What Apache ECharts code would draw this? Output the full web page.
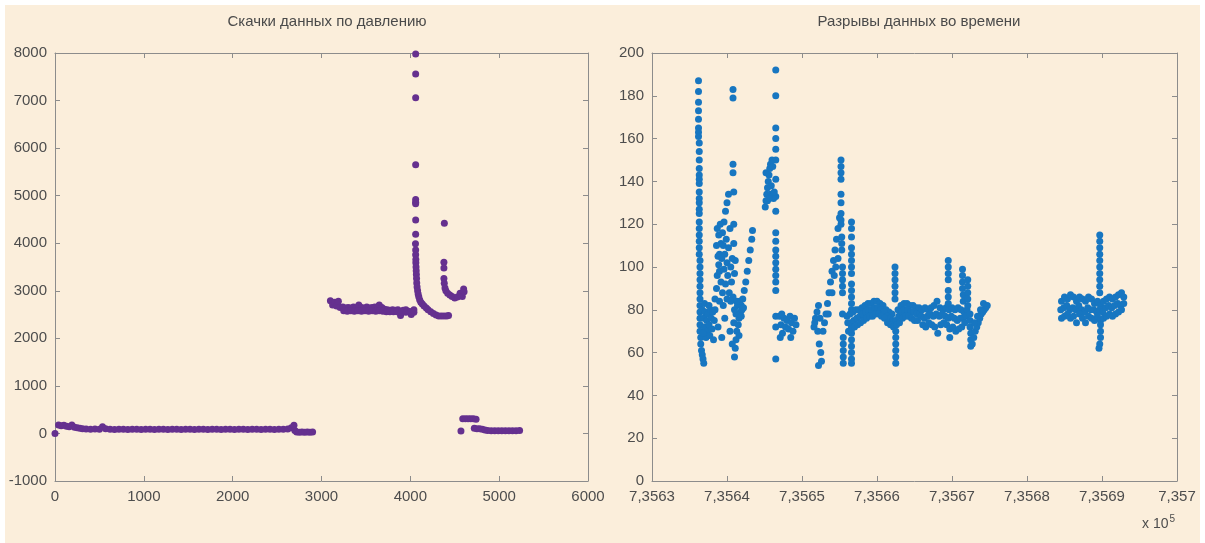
<!DOCTYPE html>
<html>
<head>
<meta charset="utf-8">
<script src="https://cdn.jsdelivr.net/npm/echarts@6/dist/echarts.min.js"></script>
<style>
  html, body { margin: 0; padding: 0; background: #ffffff; }
  #paper { position: absolute; left: 5px; top: 5px; right: 5px; bottom: 0; background: #fbeedb; }
  #chart { position: absolute; left: 0; top: 0; width: 1205px; height: 543px; }
</style>
</head>
<body>
<div id="paper"></div>
<div id="chart"></div>
<script>
// left panel: pressure jumps, [index, value]
const pressureBase = [[0,0],[40,180],[70,160],[100,170],[130,150],[160,140],[190,175],[220,130],[250,120],[280,110],[310,100],[350,95],[400,90],[450,95],[500,90],[535,140],[570,100],[620,90],[670,85],[720,90],[770,90],[820,85],[870,90],[920,90],[970,85],[1020,90],[1070,90],[1120,85],[1170,90],[1220,90],[1270,85],[1320,90],[1370,90],[1420,85],[1470,90],[1520,90],[1570,85],[1620,90],[1670,90],[1720,85],[1770,90],[1820,90],[1870,85],[1920,90],[1970,90],[2020,85],[2070,90],[2120,90],[2170,85],[2220,90],[2270,90],[2320,85],[2370,90],[2420,90],[2470,85],[2520,90],[2570,90],[2620,95],[2660,120],[2690,170]]
const pressureDrop = [[2700,60],[2720,30],[2750,25],[2780,30],[2810,25],[2840,30],[2870,25],[2900,30]]
const pressurePlateau = [[3100,2790],[3125,2700],[3150,2760],[3170,2680],[3190,2780],[3210,2650],[3240,2660],[3270,2640],[3300,2650],[3330,2640],[3360,2660],[3390,2640],[3420,2700],[3450,2650],[3480,2640],[3510,2660],[3540,2640],[3570,2650],[3600,2660],[3630,2640],[3650,2700],[3680,2650],[3710,2610],[3740,2600],[3770,2590],[3800,2600],[3830,2590],[3860,2600],[3890,2480],[3920,2590],[3950,2600],[3980,2570],[4010,2500],[4040,2600],
  [3250,2580],[3290,2570],[3330,2580],[3370,2570],[3410,2580],[3450,2570],[3490,2580],[3530,2570],[3570,2580],[3610,2570],[3650,2580],[3690,2570],[3730,2560],[3770,2560],[3810,2560],[3850,2560],[3900,2550],[3950,2550],[4000,2560],[4040,2550]]
const pressureSpike = [[4060,7980],[4060,7560],[4060,7060],[4060,5650],[4060,4920],[4060,4860],[4060,4830],[4060,4490],[4060,4190],[4058,3990],[4060,3860],[4060,3760],[4062,3660],[4062,3590],[4064,3500],[4066,3420],[4068,3340],[4070,3260],[4072,3165],[4076,3080],[4082,3000],[4088,2930],[4095,2876],[4105,2810],[4118,2760],[4135,2720],[4155,2680],[4180,2640],[4200,2600],[4230,2560],[4260,2520],[4290,2490],[4320,2470],[4350,2470],[4380,2470],[4410,2470],[4430,2480]]
const pressureSecond = [[4383,4420],[4378,3600],[4378,3480],[4378,3260],[4382,3160],[4390,3060],[4400,3000],[4420,2950],[4445,2910],[4470,2880],[4500,2850],[4530,2870],[4560,2950],[4585,2880],[4600,3040],[4605,2980]]
const pressureTail = [[4570,50],[4590,310],[4620,310],[4650,310],[4680,310],[4710,310],[4740,300],[4720,110],[4750,100],[4780,100],[4810,90],[4840,70],[4870,60],[4910,55],[4950,55],[4990,55],[5030,55],[5070,55],[5110,55],[5150,55],[5190,55],[5230,60]]

// right panel: time gaps, [time, value]
const gapsA = [[735636.2,187],[735636.2,182],[735636.2,177],[735636.2,173],[735636.2,169],[735636.2,165],[735636.2,163],[735636.2,161],[735636.3,158],[735636.3,154],[735636.3,150],[735636.3,146],[735636.3,143],[735636.3,141],[735636.3,139],[735636.3,135],[735636.3,132],[735636.3,130],[735636.3,127],[735636.3,125],[735636.3,121],[735636.3,118],[735636.3,115],[735636.3,112],[735636.3,109],[735636.3,106],[735636.4,103],[735636.4,100],[735636.4,97],[735636.4,94],[735636.4,91],[735636.4,88],[735636.4,85],[735636.4,82],[735636.4,79],[735636.4,76],[735636.4,73],[735636.4,70],[735636.5,67],[735636.5,64],[735636.6,61],[735636.7,59],[735636.8,57],[735636.9,55],
  [735636.7,80],[735636.9,76],[735637.0,72],[735637.1,79],[735637.3,75],[735637.4,70],[735637.5,78],[735637.6,73],[735637.8,80],[735637.9,76],[735638.0,71],[735638.1,79],[735638.3,75],[735638.4,80],[735637.2,67],[735637.7,68],[735638.2,66],[735636.8,69],[735637.0,83],[735637.6,82]]
const gapsB = [[735638.4,85],[735638.6,90],[735638.7,96],[735638.9,101],[735639.0,106],[735639.2,111],[735639.4,116],[735639.6,121],[735639.8,126],[735640.0,130],[735640.2,134],
  [735638.6,110],[735638.7,118],[735638.8,105],[735638.9,115],[735639.0,98],[735639.1,120],[735639.2,93],[735639.3,104],[735639.4,88],[735639.5,110],[735639.6,99],[735639.7,106],[735639.8,92],[735639.9,113],[735640.0,102],[735640.1,96],[735640.2,109],[735640.3,88],[735640.4,118],[735640.5,100],[735640.6,93],[735640.7,104],[735640.8,86],[735640.9,111],[735641.0,97],[735641.1,103],[735639.0,84],[735639.5,82],[735640.0,85],[735640.5,84],[735638.8,72],[735639.3,67],[735639.7,76],[735640.4,70],
  [735640.8,183],[735640.8,179],[735640.8,148],[735640.8,144],[735640.9,135],[735640.9,120],
  [735641.0,58],[735641.1,62],[735641.2,66],[735641.3,70],[735641.5,73],[735641.6,76],[735641.8,79],[735641.9,82],[735642.1,85],[735642.3,89],[735642.5,93],[735642.7,98],[735642.9,103],[735643.1,108],[735643.3,113],[735643.4,117],
  [735641.4,82],[735641.7,84],[735642.0,80],[735641.2,78],[735640.9,74],[735641.6,68],[735640.7,64],[735641.0,80],[735641.3,84],[735641.9,77],[735642.2,81]]
const gapsC = [[735646.5,192],[735646.5,180],[735646.5,165],[735646.5,160],[735646.5,155],[735646.5,150],[735646.5,141],[735646.5,133],[735646.5,126],[735646.5,116],[735646.5,112],[735646.5,108],[735646.5,105],[735646.5,102],[735646.5,99],[735646.5,96],[735646.5,93],[735646.5,89],[735646.5,77],[735646.5,72],[735646.5,57],
  [735645.1,128],[735645.2,131],[735645.2,144],[735645.3,134],[735645.4,137],[735645.5,140],[735645.6,143],[735645.7,146],[735645.8,148],[735646.0,150],[735646.1,147],[735645.4,131],[735645.8,134],[735646.0,133],[735646.2,132],[735646.3,135],[735645.6,132],[735645.9,138]]
const gapsD = [[735647.0,77],[735647.2,73],[735647.4,69],[735647.6,76],[735647.8,72],[735648.0,75],[735648.2,71],[735648.4,77],[735648.6,74],[735648.8,70],[735649.0,76],[735649.2,73],[735647.3,78],[735648.5,67],[735647.1,67]]
const gapsE = [[735651.6,72],[735651.8,76],[735652.0,79],[735652.2,82],[735652.4,76],[735652.1,70],[735652.3,64],[735652.5,60],[735652.6,56],[735652.2,54],[735651.7,74],
  [735652.8,70],[735653.0,74],[735653.2,78],[735653.4,83],[735653.6,88],[735653.8,93],[735654.0,98],[735654.2,103],[735654.4,108],[735654.6,113],[735654.8,118],[735655.0,123],[735653.5,78],[735654.0,88],[735654.5,100],[735654.8,104],[735654.3,96],
  [735655.2,150],[735655.2,147],[735655.2,144],[735655.2,141],[735655.2,134],[735655.2,130],[735655.2,125],[735655.2,122],[735655.2,120],[735655.3,114],[735655.3,111],[735655.3,108],[735655.4,100],[735655.4,97],[735655.4,94],[735655.4,91],[735655.4,88],[735655.4,78],[735655.5,67],[735655.5,64],[735655.5,61],[735655.5,58],[735655.5,55],
  [735656.6,121],[735656.6,118],[735656.6,114],[735656.6,109],[735656.6,106],[735656.6,103],[735656.6,100],[735656.6,97],[735656.6,92],[735656.6,89],[735656.6,86],[735656.6,83],[735656.6,80],[735656.6,72],[735656.6,69],[735656.6,66],[735656.6,63],[735656.6,60],[735656.6,57],[735656.6,55]]
const gapsF = [[735656.0,77],[735656.4,78],[735656.8,79],[735657.2,80],[735657.6,80],[735658.0,81],[735658.4,82],[735658.8,83],[735659.2,83],[735659.6,84],[735660.0,84],[735660.4,83],[735660.8,82],[735661.2,80],[735661.6,79],[735662.0,78],[735662.8,80],[735663.2,82],[735663.6,83],[735664.0,83],[735664.4,82],[735664.8,82],[735665.2,81],[735665.6,81],
  [735656.1,74],[735656.5,74],[735656.9,75],[735657.3,76],[735657.7,77],[735658.1,78],[735658.5,79],[735658.9,80],[735659.3,80],[735659.7,81],[735660.1,81],[735660.5,80],[735660.9,79],[735661.3,77],[735661.7,76],[735662.1,75],[735662.5,75],[735662.9,77],[735663.3,79],[735663.7,80],[735664.1,80],[735664.5,79],[735664.9,79],[735665.3,78],[735665.7,78],
  [735656.2,70],[735656.6,71],[735657.0,72],[735657.4,73],[735657.8,74],[735658.2,75],[735658.6,76],[735659.0,77],[735659.4,77],[735659.8,78],[735660.2,78],[735660.6,77],[735661.0,76],[735661.4,74],[735661.8,73],[735662.2,72],[735662.6,73],[735663.0,74],[735663.4,76],[735663.8,77],[735664.2,77],[735664.6,76],[735665.0,75],[735665.4,75],
  [735662.4,100],[735662.4,97],[735662.4,94],[735662.4,91],[735662.4,88],[735662.4,85],[735662.5,70],[735662.5,67],[735662.5,64],[735662.5,61],[735662.5,58],[735662.5,55]]
const gapsG = [[735666.0,80],[735666.4,81],[735666.8,80],[735667.2,81],[735667.6,82],[735668.0,84],[735668.4,81],[735668.8,80],[735669.2,81],[735669.6,80],[735670.0,81],[735670.4,80],[735670.8,81],[735671.2,80],[735671.6,79],[735672.0,80],
  [735665.9,77],[735666.3,76],[735666.7,77],[735667.1,78],[735667.5,77],[735667.9,78],[735668.3,77],[735668.7,78],[735669.1,77],[735669.5,76],[735669.9,77],[735670.3,76],[735670.7,75],[735671.1,76],[735671.5,76],[735671.9,77],
  [735666.1,73],[735666.5,72],[735666.9,74],[735667.3,73],[735667.7,72],[735668.1,69],[735668.5,73],[735668.9,74],[735669.3,73],[735669.7,71],[735670.1,72],[735670.5,70],[735670.9,71],[735671.3,72],[735671.7,74],
  [735669.5,103],[735669.5,100],[735669.5,97],[735669.5,94],[735669.5,89],[735669.5,86],[735669.5,83],[735669.7,67],
  [735671.4,99],[735671.4,96],[735671.4,93],[735671.4,90],[735671.5,87],[735671.5,84],[735672.1,94],[735672.1,91],[735672.1,88],[735672.1,85],[735672.1,82],
  [735672.4,78],[735672.4,75],[735672.4,72],[735672.5,69],[735672.5,66],[735672.5,63],
  [735672.7,64],[735672.9,67],[735673.1,70],[735673.3,72],[735673.5,74],[735673.7,76],[735673.9,78],[735674.1,79],[735674.3,80],[735674.5,81],[735674.7,82],[735673.4,77],[735673.8,80],[735674.2,83],[735673.0,74]]
const gapsH = [[735684.6,84],[735685.0,86],[735685.4,85],[735685.8,87],[735686.2,86],[735686.6,84],[735687.0,86],[735687.4,85],[735687.8,84],[735688.2,86],[735688.6,85],[735689.0,83],[735689.4,84],[735689.8,82],[735690.2,84],[735690.6,85],[735691.0,86],[735691.4,85],[735691.8,86],[735692.2,87],[735692.6,88],[735692.9,86],
  [735684.5,80],[735684.9,81],[735685.3,82],[735685.7,80],[735686.1,81],[735686.5,80],[735686.9,82],[735687.3,80],[735687.7,79],[735688.1,81],[735688.5,80],[735688.9,80],[735689.3,79],[735689.7,80],[735690.1,79],[735690.5,81],[735690.9,82],[735691.3,81],[735691.7,82],[735692.1,83],[735692.5,82],[735692.9,83],
  [735684.6,76],[735685.0,77],[735685.4,78],[735685.8,76],[735686.2,77],[735686.6,74],[735687.0,78],[735687.4,76],[735687.8,74],[735688.2,77],[735688.6,76],[735689.0,75],[735689.4,77],[735689.8,75],[735690.2,76],[735690.6,77],[735691.0,78],[735691.4,77],[735691.8,78],[735692.2,79],[735692.6,80],
  [735689.7,115],[735689.7,112],[735689.7,109],[735689.7,106],[735689.7,103],[735689.7,100],[735689.7,97],[735689.7,94],[735689.7,91],[735689.7,88],[735689.8,73],[735689.8,70],[735689.8,67],[735689.7,64],[735689.6,62]]

const titles = ['Скачки данных по давлению', 'Разрывы данных во времени']

const font = '"Liberation Sans Narrow", "Liberation Sans", Arial, sans-serif'
const axisColor = '#8c8c8c'
const labelColor = '#4d4d4d'

function plainLabel(v) {
  return String(v)
}

function timeLabel(v) {
  return (v / 1e5).toFixed(5).replace(/0+$/, '').replace('.', ',')
}

function axisPair(kind, gridIndex, min, max, interval, formatter) {
  const base = {
    type: 'value', gridIndex, min, max, interval,
    axisLine: { show: true, onZero: false, lineStyle: { color: axisColor, width: 1 } },
    axisTick: { show: true, inside: true, length: 5, lineStyle: { color: axisColor } },
    splitLine: { show: false }
  }
  const main = {
    ...base,
    position: kind === 'x' ? 'bottom' : 'left',
    axisLabel: { show: true, color: labelColor, fontFamily: font, fontSize: 15, margin: 8, formatter }
  }
  const mirror = {
    ...base,
    position: kind === 'x' ? 'top' : 'right',
    axisLabel: { show: false }
  }
  return [main, mirror]
}

const chart = echarts.init(document.getElementById('chart'))

const scatter = (name, data, xAxisIndex, yAxisIndex, color) => ({
  name, type: 'scatter', data, xAxisIndex, yAxisIndex,
  symbolSize: 7, itemStyle: { color, opacity: 1 }, silent: true
})

chart.setOption({
  backgroundColor: 'transparent',
  animation: false,
  textStyle: { fontFamily: font },
  title: [
    { text: titles[0], left: 322, top: 9, textAlign: 'center',
      textStyle: { fontFamily: font, fontSize: 15, fontWeight: 'normal', color: '#4a4a4a' } },
    { text: titles[1], left: 914, top: 9, textAlign: 'center',
      textStyle: { fontFamily: font, fontSize: 15, fontWeight: 'normal', color: '#4a4a4a' } }
  ],
  grid: [
    { left: 55, right: 617, top: 53, bottom: 62 },
    { left: 652, right: 28, top: 53, bottom: 62 }
  ],
  xAxis: [
    ...axisPair('x', 0, 0, 6000, 1000, plainLabel),
    ...axisPair('x', 1, 735630, 735700, 10, timeLabel)
  ],
  yAxis: [
    ...axisPair('y', 0, -1000, 8000, 1000, plainLabel),
    ...axisPair('y', 1, 0, 200, 20, plainLabel)
  ],
  graphic: [{
    type: 'text', left: 1142, top: 514,
    style: {
      text: '{b|x 10}{s|5}',
      rich: {
        b: { fontFamily: font, fontSize: 14, fill: labelColor },
        s: { fontFamily: font, fontSize: 10, fill: labelColor, verticalAlign: 'top', padding: [0, 0, 10, 1] }
      }
    }
  }],
  series: [
    scatter('base', pressureBase, 0, 0, '#65308f'),
    scatter('drop', pressureDrop, 0, 0, '#65308f'),
    scatter('plateau', pressurePlateau, 0, 0, '#65308f'),
    scatter('spike', pressureSpike, 0, 0, '#65308f'),
    scatter('second', pressureSecond, 0, 0, '#65308f'),
    scatter('tail', pressureTail, 0, 0, '#65308f'),
    scatter('a', gapsA, 2, 2, '#1776c1'),
    scatter('b', gapsB, 2, 2, '#1776c1'),
    scatter('c', gapsC, 2, 2, '#1776c1'),
    scatter('d', gapsD, 2, 2, '#1776c1'),
    scatter('e', gapsE, 2, 2, '#1776c1'),
    scatter('f', gapsF, 2, 2, '#1776c1'),
    scatter('g', gapsG, 2, 2, '#1776c1'),
    scatter('h', gapsH, 2, 2, '#1776c1')
  ]
})
</script>
</body>
</html>
